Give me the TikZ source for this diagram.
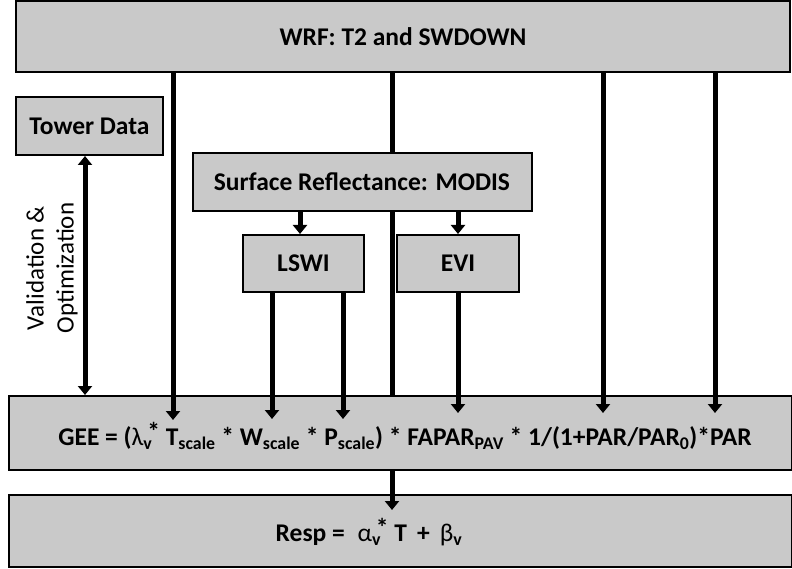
\documentclass[tikz,border=0pt]{standalone}
\usepackage{fontspec}
\setmainfont{Carlito}
\usetikzlibrary{arrows.meta}
\definecolor{boxgray}{RGB}{201,201,201}

\begin{document}
\begin{tikzpicture}[x=1pt, y=-1pt,
  box/.style={draw=black, line width=2pt, fill=boxgray, inner sep=0pt,
    font=\fontsize{25.5}{30}\selectfont\bfseries},
  eqtext/.style={font=\fontsize{25.5}{30}\selectfont\bfseries},
  arr/.style={line width=5pt, -{Triangle[length=9pt,width=14pt]}},
  dblarr/.style={line width=5pt, {Triangle[length=9pt,width=14pt]}-{Triangle[length=9pt,width=14pt]}},
  link/.style={line width=5pt}]
  \useasboundingbox (0,0) rectangle (792,569);

  % boxes
  \node[box, minimum width=774, minimum height=71] (wrf) at (403,37) {WRF: T2 and SWDOWN};
  \node[box, minimum width=147, minimum height=58] (tower) at (89.5,126) {Tower Data};
  \node[box, minimum width=339, minimum height=58] (surf) at (362,182) {Surface Reflectance: MODIS};
  \node[box, minimum width=121, minimum height=57] (lswi) at (303.5,263.5) {LSWI};
  \node[box, minimum width=122, minimum height=57] (evi) at (458,263.5) {EVI};
  \node[box, minimum width=783, minimum height=74] (gee) at (400,433) {};
  \node[box, minimum width=783, minimum height=72] (resp) at (400,531) {};

  % texts
  \node[eqtext] (geelbl) at (405,436) {GEE = (\textmd{λ}\textsubscript{v}\kern-5pt\raisebox{5pt}{*} T\textsubscript{scale} * W\textsubscript{scale} * P\textsubscript{scale}) * FAPAR\textsubscript{PAV} * 1/(1+PAR/PAR\textsubscript{0})*PAR};
  \node[eqtext] (resplbl) at (369,532) {Resp =\enspace \textmd{α}\textsubscript{v}\kern-5pt\raisebox{5pt}{*} T \,+\, \textmd{β}\textsubscript{v}};
  \node[rotate=90, align=center, font=\fontsize{25}{30}\selectfont] (vlbl) at (52,268) {Validation \&\\Optimization};

  % arrow ends
  \coordinate (tT) at (173,420);
  \coordinate (tW) at (272,419);
  \coordinate (tP) at (343,419);
  \coordinate (tF) at (458,413);
  \coordinate (tPAR0) at (603,413);
  \coordinate (tPAR) at (715,413);
  \coordinate (tR) at (392,510);
  \coordinate (mid) at (392,0);
  \coordinate (val) at (85,0);

  % connectors
  \draw[arr] (wrf.south -| tT) -- (tT);
  \draw[arr] (wrf.south -| tPAR0) -- (tPAR0);
  \draw[arr] (wrf.south -| tPAR) -- (tPAR);
  \draw[link] (wrf.south -| mid) -- (surf.north -| mid);
  \draw[link] (surf.south -| mid) -- (gee.north -| mid);
  \draw[arr] (gee.south -| tR) -- (tR);
  \draw[arr] (surf.south -| 300,0) -- (lswi.north -| 300,0);
  \draw[arr] (surf.south -| tF) -- (evi.north -| tF);
  \draw[arr] (lswi.south -| tW) -- (tW);
  \draw[arr] (lswi.south -| tP) -- (tP);
  \draw[arr] (evi.south -| tF) -- (tF);
  \draw[dblarr] (tower.south -| val) -- (gee.north -| val);
\end{tikzpicture}
\end{document}
